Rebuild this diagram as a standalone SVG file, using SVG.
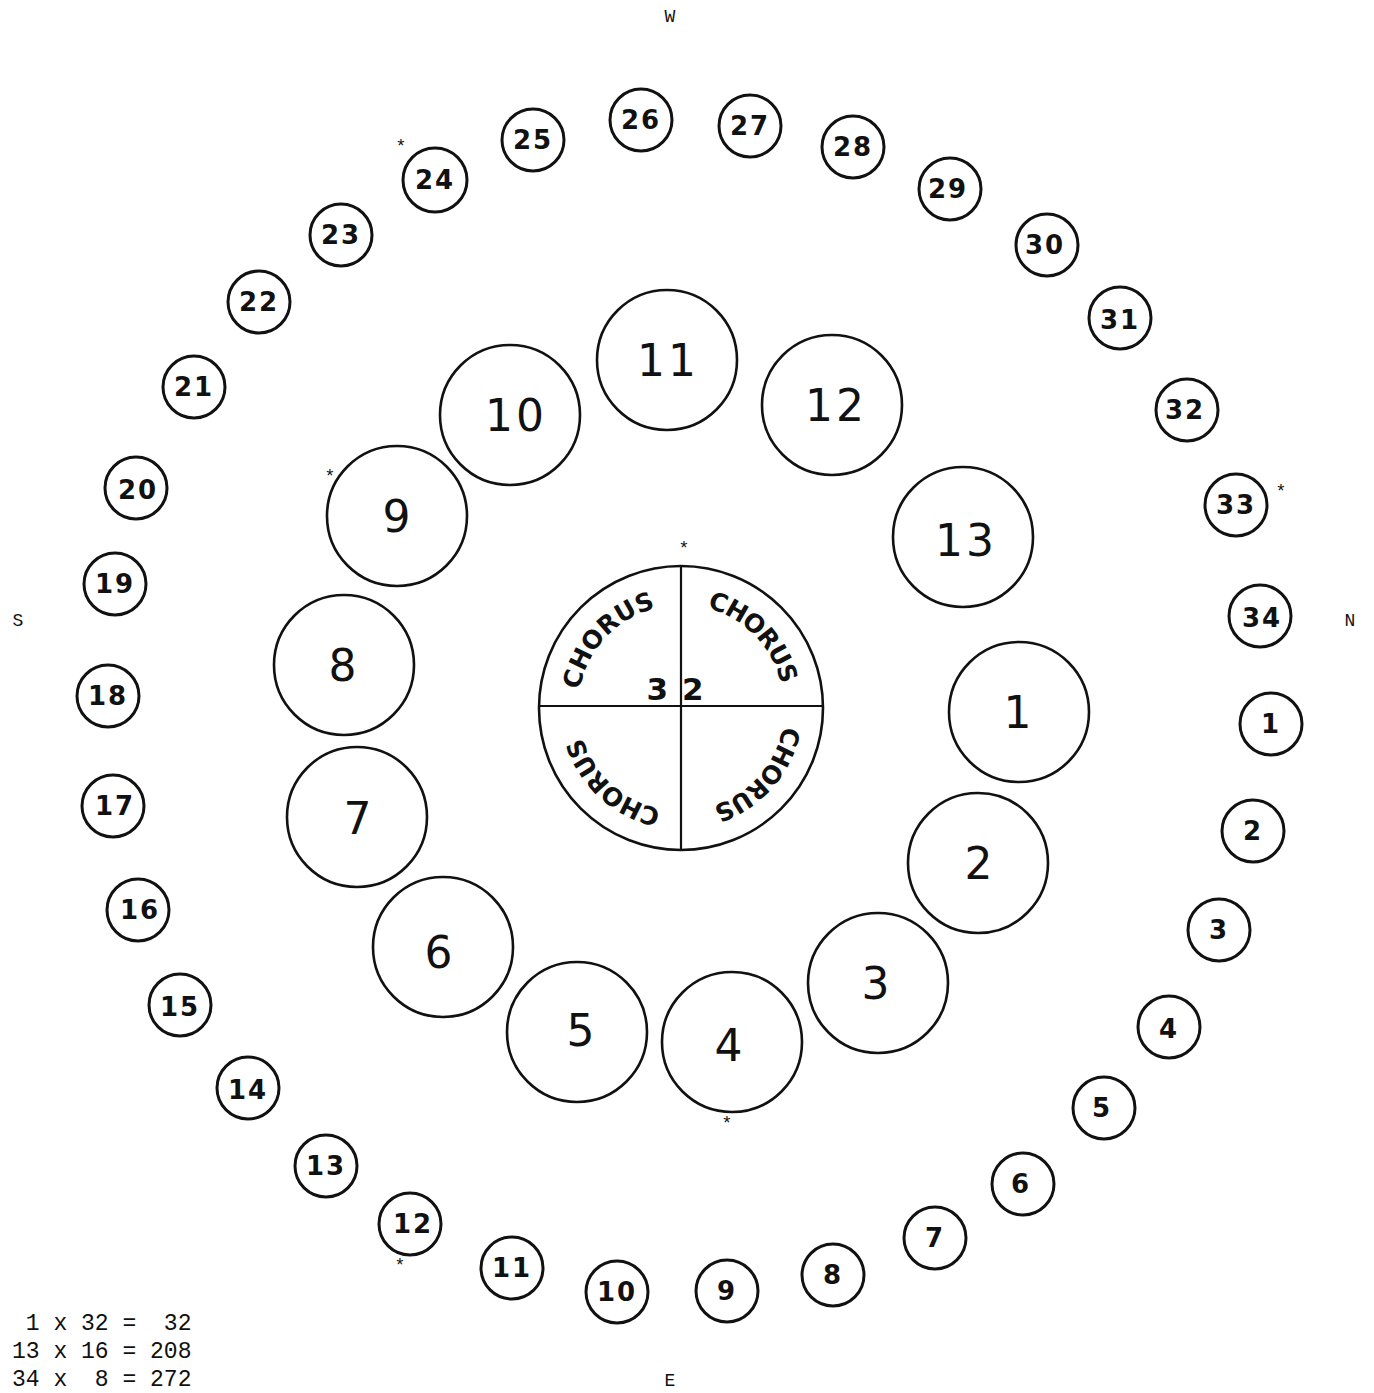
<svg xmlns="http://www.w3.org/2000/svg" width="1374" height="1393" viewBox="0 0 1374 1393">
<style>
.bg{fill:#ffffff}
.c{fill:none;stroke:#111;stroke-width:2.6}
.oc{fill:none;stroke:#111;stroke-width:3}
.in{font-family:"DejaVu Sans",sans-serif;font-size:44px;fill:#111;text-anchor:middle;dominant-baseline:central;letter-spacing:3px}
.out{font-family:"DejaVu Sans",sans-serif;font-size:26px;font-weight:bold;fill:#111;text-anchor:middle;dominant-baseline:central;letter-spacing:2px}
.mono{font-family:"Liberation Mono",monospace;fill:#111}
.ch{font-family:"DejaVu Sans",sans-serif;font-size:25px;font-weight:bold;fill:#111}
.ast{font-family:"Liberation Mono",monospace;font-size:18px;fill:#111;text-anchor:middle}
.ln{stroke:#111;stroke-width:2.2}
</style>
<defs>
<path id="q1" d="M 579.6 690 A 103 103 0 0 1 656 608"/>
<path id="q2" d="M 707 608 A 103 103 0 0 1 782.4 690"/>
<path id="q3" d="M 783 726 A 103 103 0 0 1 707.7 807.5"/>
<path id="q4" d="M 661 809 A 103 103 0 0 1 579.6 726"/>
</defs>
<rect class="bg" x="0" y="0" width="1374" height="1393"/>

<g id="compass">
<text class="mono" x="670" y="22" font-size="18" text-anchor="middle">W</text>
<text class="mono" x="670" y="1386" font-size="18" text-anchor="middle">E</text>
<text class="mono" x="18" y="626" font-size="18" text-anchor="middle">S</text>
<text class="mono" x="1350" y="626" font-size="18" text-anchor="middle">N</text>
</g>

<g id="center">
<circle class="c" cx="681" cy="708" r="142"/>
<line class="ln" x1="540" y1="706" x2="823" y2="706"/>
<line class="ln" x1="681" y1="566" x2="681" y2="851"/>
<text class="ch"><textPath href="#q1" textLength="118" lengthAdjust="spacing">CHORUS</textPath></text>
<text class="ch"><textPath href="#q2" textLength="112" lengthAdjust="spacing">CHORUS</textPath></text>
<text class="ch"><textPath href="#q3" textLength="112" lengthAdjust="spacing">CHORUS</textPath></text>
<text class="ch"><textPath href="#q4" textLength="112" lengthAdjust="spacing">CHORUS</textPath></text>
<text x="682" y="689" font-family="DejaVu Sans,sans-serif" font-size="31" font-weight="bold" fill="#111" text-anchor="middle" dominant-baseline="central" letter-spacing="14">32</text>
</g>

<g id="inner">
<g id="i1"><circle class="c" cx="1019" cy="712" r="70"/><text class="in" x="1019" y="712">1</text></g>
<g id="i2"><circle class="c" cx="978" cy="863" r="70"/><text class="in" x="980" y="863">2</text></g>
<g id="i3"><circle class="c" cx="878" cy="983" r="70"/><text class="in" x="877" y="983">3</text></g>
<g id="i4"><circle class="c" cx="732" cy="1042" r="70"/><text class="in" x="730" y="1045">4</text></g>
<g id="i5"><circle class="c" cx="577" cy="1032" r="70"/><text class="in" x="582" y="1030">5</text></g>
<g id="i6"><circle class="c" cx="443" cy="947" r="70"/><text class="in" x="440" y="952">6</text></g>
<g id="i7"><circle class="c" cx="357" cy="817" r="70"/><text class="in" x="359" y="818">7</text></g>
<g id="i8"><circle class="c" cx="344" cy="665" r="70"/><text class="in" x="344" y="665">8</text></g>
<g id="i9"><circle class="c" cx="397" cy="516" r="70"/><text class="in" x="398" y="516">9</text></g>
<g id="i10"><circle class="c" cx="510" cy="415" r="70"/><text class="in" x="516" y="415">10</text></g>
<g id="i11"><circle class="c" cx="667" cy="360" r="70"/><text class="in" x="668" y="360">11</text></g>
<g id="i12"><circle class="c" cx="832" cy="405" r="70"/><text class="in" x="836" y="405">12</text></g>
<g id="i13"><circle class="c" cx="963" cy="537" r="70"/><text class="in" x="966" y="540">13</text></g>
</g>

<g id="outer">
<g id="o1"><circle class="oc" cx="1271" cy="724" r="31"/><text class="out" x="1271" y="724">1</text></g>
<g id="o2"><circle class="oc" cx="1253" cy="831" r="31"/><text class="out" x="1253" y="831">2</text></g>
<g id="o3"><circle class="oc" cx="1219" cy="930" r="31"/><text class="out" x="1219" y="930">3</text></g>
<g id="o4"><circle class="oc" cx="1169" cy="1027" r="31"/><text class="out" x="1169" y="1029">4</text></g>
<g id="o5"><circle class="oc" cx="1104" cy="1108" r="31"/><text class="out" x="1102" y="1108">5</text></g>
<g id="o6"><circle class="oc" cx="1023" cy="1184" r="31"/><text class="out" x="1021" y="1184">6</text></g>
<g id="o7"><circle class="oc" cx="935" cy="1238" r="31"/><text class="out" x="935" y="1238">7</text></g>
<g id="o8"><circle class="oc" cx="833" cy="1275" r="31"/><text class="out" x="833" y="1275">8</text></g>
<g id="o9"><circle class="oc" cx="727" cy="1291" r="31"/><text class="out" x="727" y="1291">9</text></g>
<g id="o10"><circle class="oc" cx="617" cy="1292" r="31"/><text class="out" x="617" y="1292">10</text></g>
<g id="o11"><circle class="oc" cx="512" cy="1268" r="31"/><text class="out" x="512" y="1268">11</text></g>
<g id="o12"><circle class="oc" cx="410" cy="1224" r="31"/><text class="out" x="413" y="1224">12</text></g>
<g id="o13"><circle class="oc" cx="326" cy="1166" r="31"/><text class="out" x="326" y="1166">13</text></g>
<g id="o14"><circle class="oc" cx="248" cy="1088" r="31"/><text class="out" x="248" y="1090">14</text></g>
<g id="o15"><circle class="oc" cx="180" cy="1005" r="31"/><text class="out" x="180" y="1007">15</text></g>
<g id="o16"><circle class="oc" cx="138" cy="910" r="31"/><text class="out" x="140" y="910">16</text></g>
<g id="o17"><circle class="oc" cx="113" cy="806" r="31"/><text class="out" x="115" y="806">17</text></g>
<g id="o18"><circle class="oc" cx="108" cy="696" r="31"/><text class="out" x="108" y="696">18</text></g>
<g id="o19"><circle class="oc" cx="115" cy="584" r="31"/><text class="out" x="115" y="584">19</text></g>
<g id="o20"><circle class="oc" cx="136" cy="488" r="31"/><text class="out" x="138" y="490">20</text></g>
<g id="o21"><circle class="oc" cx="194" cy="387" r="31"/><text class="out" x="194" y="387">21</text></g>
<g id="o22"><circle class="oc" cx="259" cy="302" r="31"/><text class="out" x="259" y="302">22</text></g>
<g id="o23"><circle class="oc" cx="341" cy="235" r="31"/><text class="out" x="341" y="235">23</text></g>
<g id="o24"><circle class="oc" cx="435" cy="180" r="32"/><text class="out" x="435" y="180">24</text></g>
<g id="o25"><circle class="oc" cx="533" cy="140" r="31"/><text class="out" x="533" y="140">25</text></g>
<g id="o26"><circle class="oc" cx="641" cy="120" r="31"/><text class="out" x="641" y="120">26</text></g>
<g id="o27"><circle class="oc" cx="750" cy="126" r="31"/><text class="out" x="750" y="126">27</text></g>
<g id="o28"><circle class="oc" cx="853" cy="147" r="31"/><text class="out" x="853" y="147">28</text></g>
<g id="o29"><circle class="oc" cx="950" cy="189" r="31"/><text class="out" x="948" y="189">29</text></g>
<g id="o30"><circle class="oc" cx="1047" cy="245" r="31"/><text class="out" x="1045" y="245">30</text></g>
<g id="o31"><circle class="oc" cx="1120" cy="318" r="31"/><text class="out" x="1120" y="320">31</text></g>
<g id="o32"><circle class="oc" cx="1187" cy="410" r="31"/><text class="out" x="1185" y="410">32</text></g>
<g id="o33"><circle class="oc" cx="1236" cy="505" r="31"/><text class="out" x="1236" y="505">33</text></g>
<g id="o34"><circle class="oc" cx="1260" cy="616" r="31"/><text class="out" x="1262" y="618">34</text></g>
</g>

<g id="stars">
<text class="ast" x="401" y="152">*</text>
<text class="ast" x="1281" y="497">*</text>
<text class="ast" x="684" y="554">*</text>
<text class="ast" x="330" y="482">*</text>
<text class="ast" x="727" y="1129">*</text>
<text class="ast" x="400" y="1271">*</text>
</g>

<g id="table" class="mono" font-size="23">
<text x="12" y="1330" xml:space="preserve"> 1 x 32 =  32</text>
<text x="12" y="1358" xml:space="preserve">13 x 16 = 208</text>
<text x="12" y="1386" xml:space="preserve">34 x  8 = 272</text>
</g>
</svg>
